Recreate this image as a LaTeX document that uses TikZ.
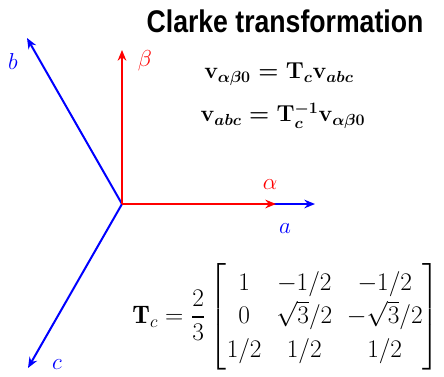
\documentclass[tikz,border=0pt]{standalone}
\usepackage{amsmath}
\usepackage{fontspec}
\usetikzlibrary{arrows.meta}
\newfontfamily\titlefont[FakeStretch=0.85]{Liberation Sans}
\begin{document}
\begin{tikzpicture}[x=0.75pt,y=-0.75pt]
  \tikzset{
    abcax/.style={blue, line width=1.5pt, -{Stealth[length=8pt,width=6.5pt]}},
    albe/.style={red, line width=1.5pt, -{Stealth[length=8pt,width=6.5pt]}},
    lbl/.style={font=\fontsize{17.28}{21}\selectfont},
    eqn/.style={font=\fontsize{17.28}{20}\selectfont}
  }
  \useasboundingbox (0,0) rectangle (444,376);
  \coordinate (o) at (122,204);
  \coordinate (aend) at (315,204);
  \coordinate (bend) at (27,38);
  \coordinate (cend) at (28,368);
  \coordinate (alend) at (276,204);
  \coordinate (beend) at (122,50);
  \draw[abcax] (o) -- (aend);
  \draw[abcax] (o) -- (bend);
  \draw[abcax] (o) -- (cend);
  \draw[albe] (o) -- (alend);
  \draw[albe] (o) -- (beend);
  \node[lbl, blue] (la) at (285,229) {$a$};
  \node[lbl, blue] (lb) at (13,61) {$b$};
  \node[lbl, blue] (lc) at (57,365) {$c$};
  \node[lbl, red] (lal) at (270,185) {$\alpha$};
  \node[lbl, red] (lbe) at (145,61) {$\beta$};
  \node[font=\titlefont\bfseries\fontsize{23.5}{28}\selectfont] (title) at (285,21) {Clarke transformation};
  \node[eqn] (fwd) at (279,74) {$\boldsymbol{\mathbf{v}_{\alpha\beta0}=\mathbf{T}_c\mathbf{v}_{abc}}$};
  \node[eqn] (inv) at (283,116) {$\boldsymbol{\mathbf{v}_{abc}=\mathbf{T}_c^{-1}\mathbf{v}_{\alpha\beta0}}$};
  \node[font=\fontsize{17.28}{23}\selectfont, scale=1.1, transform shape] (mat) at (286,317)
    {$\mathbf{T}_c=\dfrac{2}{3}\begin{bmatrix}1 & -1/2 & -1/2\\ 0 & \sqrt{3}/2 & -\sqrt{3}/2\\ 1/2 & 1/2 & 1/2\end{bmatrix}$};
\end{tikzpicture}
\end{document}
